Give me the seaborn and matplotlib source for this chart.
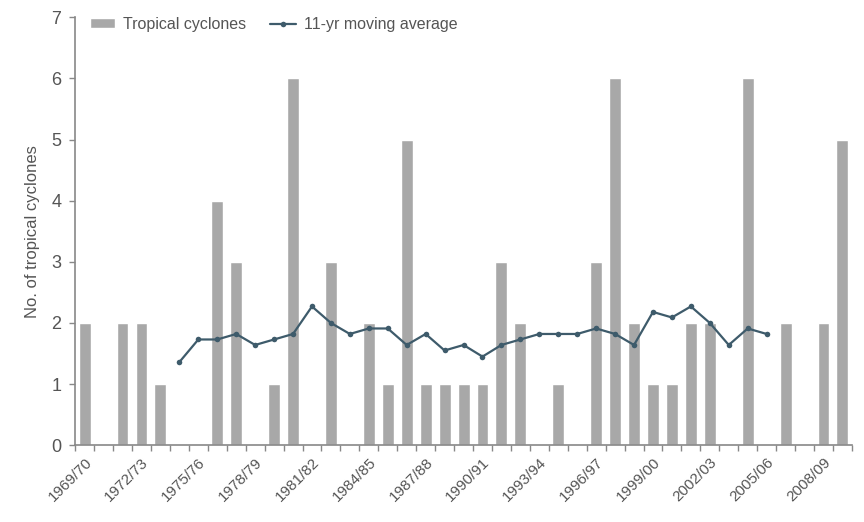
import numpy as np
import pandas as pd
import matplotlib
matplotlib.use("Agg")
import matplotlib.pyplot as plt
import seaborn as sns
from matplotlib.ticker import FixedLocator

# seasons 1969/70 .. 2009/10
seasons = [f"{y}/{str(y + 1)[-2:]}" for y in range(1969, 2010)]
cyclones = [2, 0, 2, 2, 1, 0, 0, 4, 3, 0,
            1, 6, 0, 3, 0, 2, 1, 5, 1, 1,
            1, 1, 3, 2, 0, 1, 0, 3, 6, 2,
            1, 1, 2, 2, 0, 6, 0, 2, 0, 2,
            5]
# 11-yr moving average, 1974/75 .. 2005/06
ma_seasons = seasons[5:37]
moving_avg = [1.36, 1.73, 1.73, 1.82, 1.64, 1.73, 1.82, 2.27, 2.00, 1.82,
              1.91, 1.91, 1.64, 1.82, 1.55, 1.64, 1.45, 1.64, 1.73, 1.82,
              1.82, 1.82, 1.91, 1.82, 1.64, 2.18, 2.09, 2.27, 2.00, 1.64,
              1.91, 1.82]
label_seasons = seasons[::3]

bar_col = "#a8a8a8"
line_col = "#3e5b6b"
txt_col = "#555555"

sns.set_theme(style="white")
plt.rcParams["font.family"] = ["Liberation Sans", "DejaVu Sans"]

df = pd.DataFrame({"season": seasons, "count": cyclones})
pos = {s: i for i, s in enumerate(seasons)}
ma = pd.DataFrame({"x": [pos[s] for s in ma_seasons], "avg": moving_avg})

fig = plt.figure(figsize=(8.64, 5.22), dpi=100)
ax = fig.add_axes([0.087, 0.147, 0.899, 0.82])

sns.barplot(data=df, x="season", y="count", color=bar_col, width=0.63,
            saturation=1, ax=ax, label="Tropical cyclones")
sns.lineplot(data=ma, x="x", y="avg", color=line_col, marker="o",
             markersize=4, linewidth=1.6, markeredgewidth=0, ax=ax,
             label="11-yr moving average")

ax.set_xlim(-0.5, len(seasons) - 0.5)
ax.set_ylim(0, 7)
ax.set_yticks(range(0, 8))
ax.set_xticks([pos[s] for s in label_seasons])
ax.set_xticklabels(label_seasons, rotation=45, ha="right",
                   rotation_mode="anchor", fontsize=11, color=txt_col)
ax.xaxis.set_minor_locator(FixedLocator(np.arange(-0.5, len(seasons), 1)))
ax.tick_params(axis="x", which="major", length=0, pad=7)
ax.tick_params(axis="x", which="minor", length=4, width=1, color="#888888",
               direction="out", bottom=True)
ax.tick_params(axis="y", length=4, width=1, color="#888888", direction="out",
               left=True, labelsize=13, labelcolor=txt_col, pad=6)

ax.set_xlabel("")
ax.set_ylabel("No. of tropical cyclones", fontsize=12, color=txt_col,
              labelpad=8)

sns.despine(ax=ax)
for sp in ["left", "bottom"]:
    ax.spines[sp].set_color("#888888")
    ax.spines[sp].set_linewidth(1.2)

handles, labels = ax.get_legend_handles_labels()
order = [labels.index("Tropical cyclones"), labels.index("11-yr moving average")]
leg = ax.legend([handles[i] for i in order], [labels[i] for i in order],
                loc="upper left", bbox_to_anchor=(0.0, 1.035), ncol=2,
                frameon=False, fontsize=11.5, handlelength=1.6,
                handleheight=0.5, columnspacing=1.5, handletextpad=0.5)
for t in leg.get_texts():
    t.set_color(txt_col)

fig.savefig("out.png", dpi=100)
